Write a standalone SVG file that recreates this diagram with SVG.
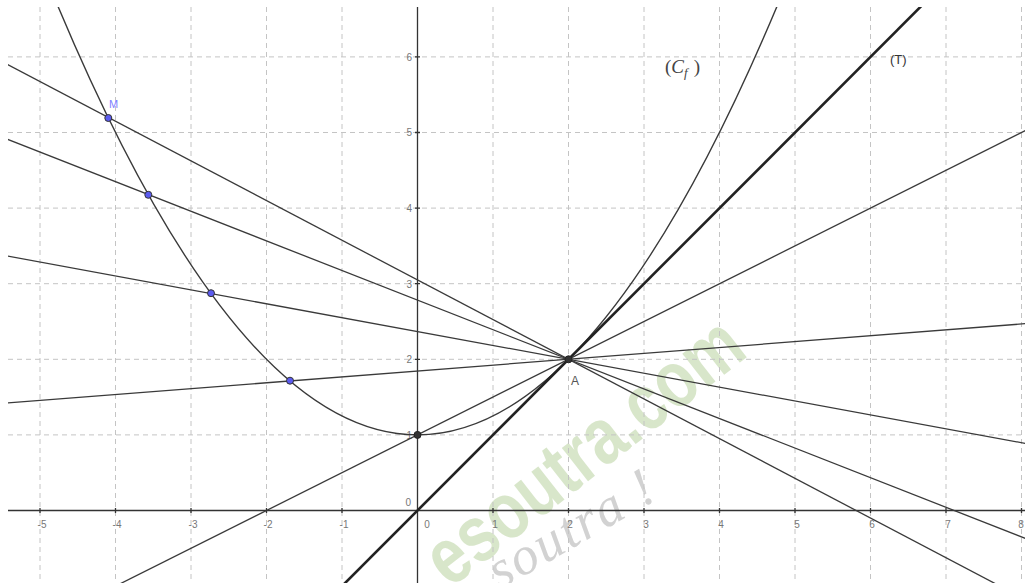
<svg xmlns="http://www.w3.org/2000/svg" width="1025" height="583" viewBox="0 0 1025 583">
<style>
.grid{stroke:#c4c4c4;stroke-width:1;stroke-dasharray:5,4;fill:none}
.axis{stroke:#333;stroke-width:1.3;fill:none}
.ln{stroke:#3a3a3a;stroke-width:1.3;fill:none}
.tan{stroke:#222;stroke-width:2.6;fill:none}
.curve{stroke:#3a3a3a;stroke-width:1.4;fill:none}
.tick{font-family:'Liberation Sans',Arial,sans-serif;font-size:10px;fill:#777}
.pt{fill:#5b5bf0;stroke:#333;stroke-width:1}
.bpt{fill:#333;stroke:#222;stroke-width:1}
</style>
<defs>
<clipPath id="plot"><rect x="8" y="7" width="1017" height="576"/></clipPath>
</defs>
<rect width="1025" height="583" fill="#fff"/>
<g id="watermark">
<text transform="translate(450,589) rotate(-38) scale(1,1.25)" font-family="'Liberation Sans',Arial,sans-serif" font-weight="bold" font-size="64" fill="#b3cf96" opacity="0.5">esoutra.com</text>
<text transform="translate(500,590) rotate(-30)" font-family="'Liberation Serif','DejaVu Serif',serif" font-style="italic" font-size="54" fill="#d2d2d2" letter-spacing="2">soutra  !</text>
</g>
<g id="grid" clip-path="url(#plot)">
<path class="grid" d="M40,7V583M115.5,7V583M191,7V583M266.5,7V583M342,7V583M493,7V583M568.5,7V583M644,7V583M719.5,7V583M795,7V583M870.5,7V583M946,7V583M1021.5,7V583"/>
<path class="grid" d="M8,434.9H1025M8,359.3H1025M8,283.7H1025M8,208.1H1025M8,132.5H1025M8,56.9H1025"/>
</g>
<g id="axes">
<path class="axis" d="M8,510.5H1025M417.5,7V583"/>
<path class="axis" stroke-width="1" d="M40,508v5M115.5,508v5M191,508v5M266.5,508v5M342,508v5M493,508v5M568.5,508v5M644,508v5M719.5,508v5M795,508v5M870.5,508v5M946,508v5M1021.5,508v5M415,434.9h5M415,359.3h5M415,283.7h5M415,208.1h5M415,132.5h5M415,56.9h5"/>
<g class="tick" text-anchor="middle">
<text x="42" y="528">-5</text><text x="117" y="528">-4</text><text x="193" y="528">-3</text><text x="268" y="528">-2</text><text x="344" y="528">-1</text><text x="427" y="528">0</text><text x="495" y="528">1</text><text x="570" y="528">2</text><text x="646" y="528">3</text><text x="721" y="528">4</text><text x="797" y="528">5</text><text x="872" y="528">6</text><text x="948" y="528">7</text><text x="1021" y="528">8</text>
</g>
<g class="tick" text-anchor="end">
<text x="411" y="506">0</text><text x="412" y="438.5">1</text><text x="412" y="363">2</text><text x="412" y="287.5">3</text><text x="412" y="212">4</text><text x="412" y="136">5</text><text x="412" y="60.5">6</text>
</g>
</g>
<g id="connectors" clip-path="url(#plot)">
<path id="curve-Cf" class="curve" d="M24.9,-76.2 Q417.5,946 810.1,-76.2"/>
<path id="line-T" class="tan" d="M-35.5,964.1L1097,-169.9"/>
<path id="line-MA" class="ln" d="M-35.5,41.8L1097,637.1"/>
<path id="line-P2A" class="ln" d="M-35.5,122.5L1097,566.5"/>
<path id="line-P3A" class="ln" d="M-35.5,248.2L1097,456.6"/>
<path id="line-P4A" class="ln" d="M-35.5,406.3L1097,318.1"/>
<path id="line-P5A" class="ln" d="M-35.5,661.7L1097,94.7"/>
</g>
<g id="node-M"><circle class="pt" cx="108.3" cy="118" r="3.5"/><text x="109" y="108" font-family="'Liberation Sans',Arial,sans-serif" font-size="11" fill="#8080ff">M</text></g>
<g id="node-P2"><circle class="pt" cx="148.3" cy="194.8" r="3.5"/></g>
<g id="node-P3"><circle class="pt" cx="211" cy="293.2" r="3.5"/></g>
<g id="node-P4"><circle class="pt" cx="290" cy="380.7" r="3.5"/></g>
<g id="node-B"><circle class="bpt" cx="417.5" cy="434.9" r="3.5"/></g>
<g id="node-A"><circle class="bpt" cx="568.5" cy="359.3" r="3.5"/><text x="571" y="385" font-family="'Liberation Sans',Arial,sans-serif" font-size="12" fill="#555">A</text></g>
<g id="label-Cf"><text x="665" y="73" font-family="'Liberation Serif','Times New Roman',serif" font-size="19" fill="#444">(<tspan font-style="italic">C</tspan><tspan font-style="italic" font-size="13" dy="4">f</tspan><tspan dy="-4" dx="6">)</tspan></text></g>
<g id="label-T"><text x="890" y="64" font-family="'Liberation Sans',Arial,sans-serif" font-size="13" fill="#333">(T)</text></g>
</svg>
